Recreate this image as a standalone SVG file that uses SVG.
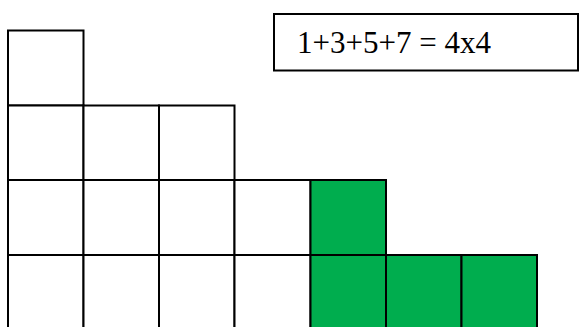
<svg xmlns="http://www.w3.org/2000/svg" width="579" height="327" viewBox="0 0 579 327">
<style>
.c{fill:#fff;stroke:#000;stroke-width:2}
.g{fill:#00ad4e;stroke:#000;stroke-width:2}
.t{font-family:"Liberation Serif","Times New Roman",serif;font-size:31px;fill:#000}
</style>
<rect width="579" height="327" fill="#fff"/>
<g id="white-squares">
<rect class="c" x="8" y="30.5" width="75.5" height="75"/>
<rect class="c" x="8" y="105.5" width="75.5" height="74.5"/>
<rect class="c" x="83.5" y="105.5" width="75.5" height="74.5"/>
<rect class="c" x="159" y="105.5" width="75.5" height="74.5"/>
<rect class="c" x="8" y="180" width="75.5" height="75"/>
<rect class="c" x="83.5" y="180" width="75.5" height="75"/>
<rect class="c" x="159" y="180" width="75.5" height="75"/>
<rect class="c" x="234.5" y="180" width="76" height="75"/>
<rect class="c" x="8" y="255" width="75.5" height="80"/>
<rect class="c" x="83.5" y="255" width="75.5" height="80"/>
<rect class="c" x="159" y="255" width="75.5" height="80"/>
<rect class="c" x="234.5" y="255" width="76" height="80"/>
</g>
<g id="green-squares">
<rect class="g" x="310.5" y="180" width="75.5" height="75"/>
<rect class="g" x="310.5" y="255" width="75.5" height="80"/>
<rect class="g" x="386" y="255" width="75.5" height="80"/>
<rect class="g" x="461.5" y="255" width="75.5" height="80"/>
</g>
<g id="label">
<rect x="274" y="14" width="304" height="56.5" fill="#fff" stroke="#000" stroke-width="2"/>
<text class="t" x="297" y="52.5">1+3+5+7 = 4x4</text>
</g>
</svg>
